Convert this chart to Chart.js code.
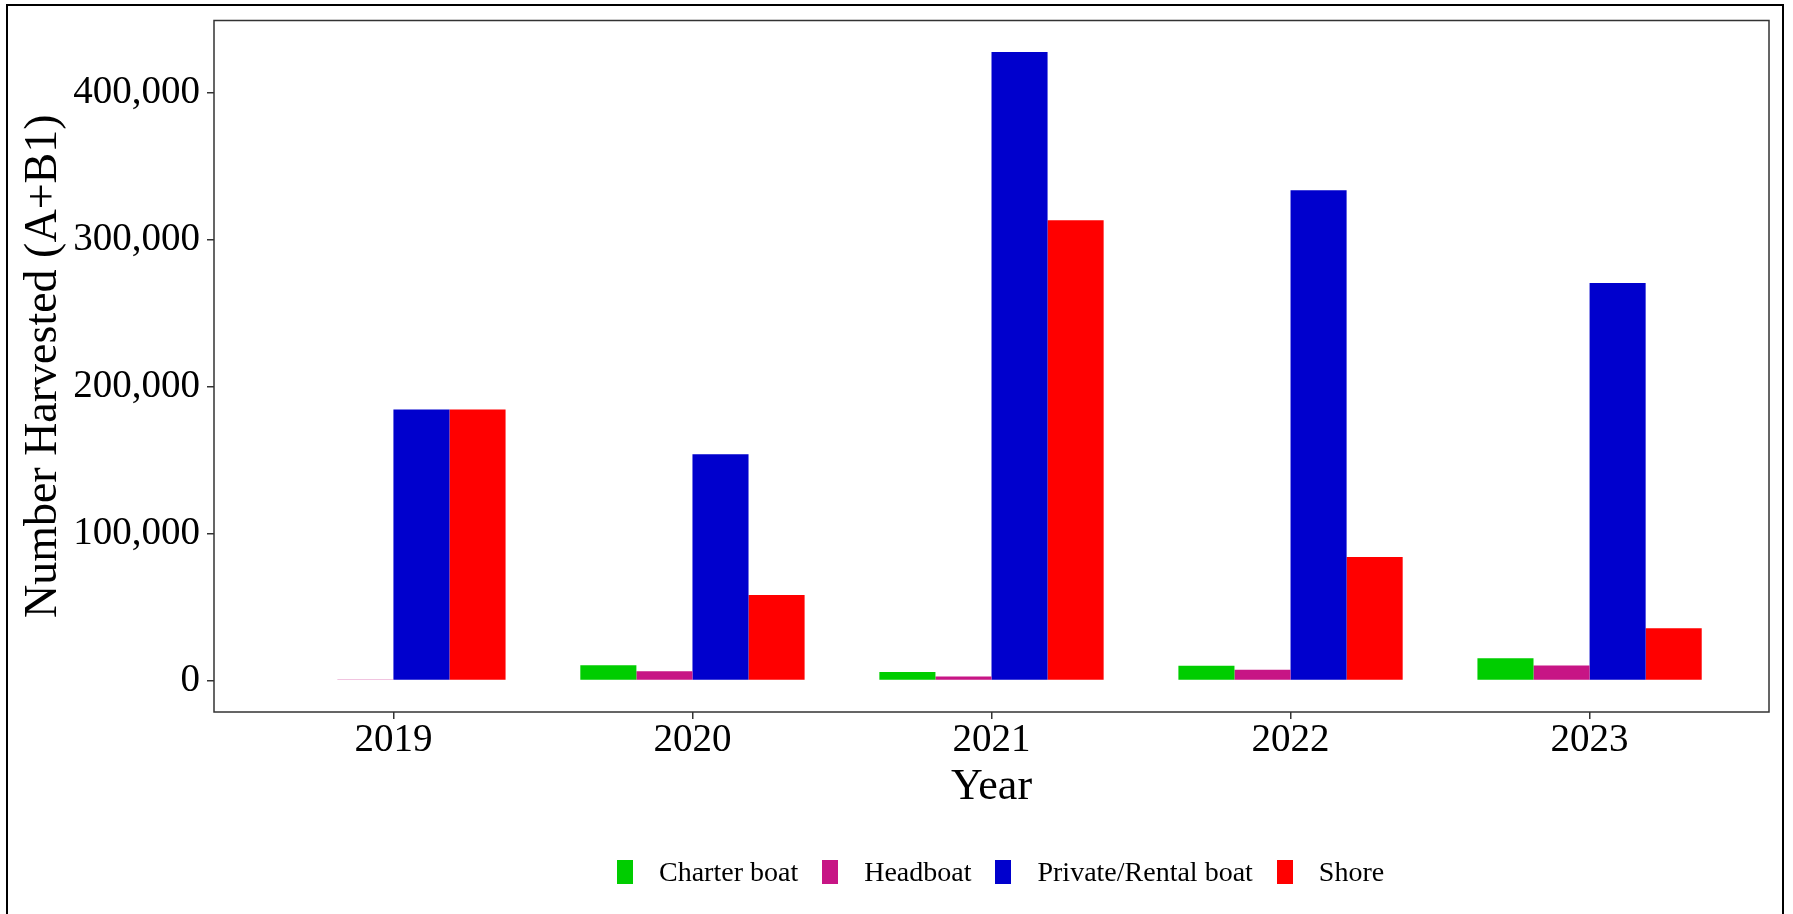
<!DOCTYPE html>
<html>
<head>
<meta charset="utf-8">
<title>Number Harvested (A+B1) by Year</title>
<script src="https://cdn.jsdelivr.net/npm/chart.js@4.4.1/dist/chart.umd.min.js"></script>
<style>
  html, body { margin:0; padding:0; background:#fff; overflow:hidden; }
  #wrap { position:relative; width:1793px; height:914px; }
  #frame { position:absolute; left:6px; top:4px; width:1778px; height:960px;
           border:2px solid #000; box-sizing:border-box; pointer-events:none; }
  #legend { position:absolute; left:617px; top:855px; display:flex; align-items:center;
            font-family:'Liberation Serif','Times New Roman',serif; font-size:28px;
            line-height:34px; color:#000; }
  #legend .item { display:flex; align-items:center; margin-right:24px; }
  #legend .key  { width:16px; height:24px; margin-right:26px; }
</style>
</head>
<body>
<div id="wrap">
  <canvas id="harvestChart"></canvas>
  <div id="frame"></div>
  <div id="legend"></div>
</div>
<script>
/* ── Datos ─────────────────────────────────────────────── */
var years         = [2019, 2020, 2021, 2022, 2023];
var charterBoat   = [0, 10500, 5900, 10000, 15200];
var headboat      = [700, 6400, 2700, 7300, 10200];
var privateRental = [184400, 154000, 427700, 333600, 270500];
var shore         = [184400, 58300, 313200, 84100, 35600];
var yTicks        = [0, 100000, 200000, 300000, 400000];
var seriesNames   = ['Charter boat', 'Headboat', 'Private/Rental boat', 'Shore'];
var seriesColors  = ['#00CD00', '#C71585', '#0000CD', '#FF0000'];

(function () {
    'use strict';
    if (typeof Chart === 'undefined') return;

    var FONT = "'Liberation Serif','Times New Roman',serif";
    Chart.defaults.font.family = FONT;
    Chart.defaults.color = '#000';
    Chart.defaults.animation = false;

    /* ggplot-style 5% expansion of the value range */
    var all = charterBoat.concat(headboat, privateRental, shore);
    var yMax = Math.max.apply(null, all);
    var yLo = -0.05 * yMax, yHi = yMax * 1.05;

    var series = [charterBoat, headboat, privateRental, shore];
    var datasets = series.map(function (s, i) {
        return { label: seriesNames[i], data: s, backgroundColor: seriesColors[i],
                 borderWidth: 0, categoryPercentage: 0.75, barPercentage: 1.0 };
    });

    /* panel border (theme_bw style) */
    var panelBorder = {
        id: 'panelBorder',
        afterDraw: function (chart) {
            var a = chart.chartArea, c = chart.ctx;
            c.save();
            c.strokeStyle = '#333';
            c.lineWidth = 1.5;
            c.strokeRect(a.left, a.top, a.right - a.left, a.bottom - a.top);
            c.restore();
        }
    };

    var tickGrid = { drawOnChartArea: false, drawTicks: true, tickLength: 7,
                     color: '#333', lineWidth: 1.5, offset: false };

    new Chart(document.getElementById('harvestChart').getContext('2d'), {
        type: 'bar',
        data: { labels: years, datasets: datasets },
        plugins: [panelBorder],
        options: {
            responsive: true, maintainAspectRatio: false,
            layout: { padding: { left: 0, top: 20.5, right: 24, bottom: 82 } },
            plugins: { legend: { display: false }, tooltip: { enabled: false } },
            scales: {
                x: {
                    type: 'linear', offset: false,
                    min: years[0] - 0.6, max: years[years.length - 1] + 0.6,
                    afterBuildTicks: function (s) { s.ticks = years.map(function (v) { return { value: v }; }); },
                    ticks: { callback: function (v) { return String(v); }, padding: 2,
                             maxRotation: 0, autoSkip: false, color: '#000',
                             font: { size: 39, lineHeight: 1 } },
                    grid: tickGrid,
                    border: { display: false },
                    title: { display: true, text: 'Year', color: '#000',
                             font: { size: 44, lineHeight: 1 }, padding: { top: 0, bottom: 23 } },
                    afterFit: function (s) { s.height = 120; s.paddingLeft = 0; s.paddingRight = 0; }
                },
                y: {
                    min: yLo, max: yHi,
                    afterBuildTicks: function (s) { s.ticks = yTicks.map(function (v) { return { value: v }; }); },
                    ticks: { callback: function (v) { return v.toLocaleString('en-US'); }, padding: 7,
                             color: '#000', font: { size: 39, lineHeight: 1 } },
                    grid: tickGrid,
                    border: { display: false },
                    title: { display: true, text: 'Number Harvested (A+B1)', color: '#000',
                             font: { size: 46, lineHeight: 1 }, padding: { top: 21, bottom: 0 } },
                    afterFit: function (s) { s.width = 214; s.paddingTop = 0; s.paddingBottom = 0; }
                }
            }
        }
    });

    /* legend (bottom, horizontal) */
    var lg = document.getElementById('legend');
    seriesNames.forEach(function (name, i) {
        var item = document.createElement('div');
        item.className = 'item';
        var key = document.createElement('span');
        key.className = 'key';
        key.style.background = seriesColors[i];
        var txt = document.createElement('span');
        txt.textContent = name;
        item.appendChild(key);
        item.appendChild(txt);
        lg.appendChild(item);
    });
})();
</script>
</body>
</html>
